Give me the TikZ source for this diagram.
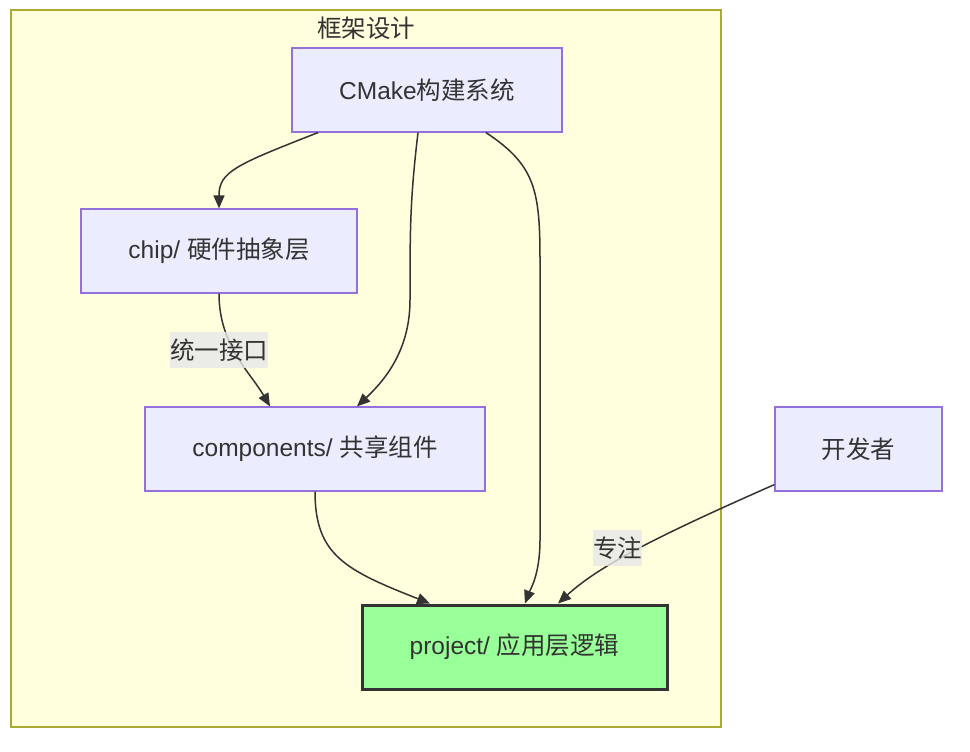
\documentclass[tikz,border=0pt]{standalone}
\usepackage{fontspec}
\setmainfont{Liberation Sans}
\newfontfamily\cjk{Noto Sans CJK SC}
\usetikzlibrary{arrows.meta,calc}
\definecolor{clusterfill}{HTML}{FFFFDE}
\definecolor{clusterline}{HTML}{AAAA33}
\definecolor{nodefill}{HTML}{ECECFF}
\definecolor{nodeline}{HTML}{9370DB}
\definecolor{projfill}{HTML}{99FF99}
\definecolor{ink}{HTML}{333333}
\definecolor{lblbg}{HTML}{E8E8E8}
\tikzset{
  txt/.style={font=\fontsize{24.5}{28}\selectfont},
  box/.style={txt, draw=nodeline, fill=nodefill, line width=1.2pt, minimum height=84pt, inner sep=0pt, text=ink},
  projbox/.style={txt, draw=ink, fill=projfill, line width=3pt, minimum height=84pt, inner sep=0pt, text=ink},
  conn/.style={draw=ink, line width=1.5pt, -{Triangle[length=13pt,width=11pt]}},
  lbl/.style={txt, fill=lblbg, fill opacity=0.8, text opacity=1, text=ink, inner sep=0pt, minimum height=36pt},
}
\begin{document}
\begin{tikzpicture}[x=1pt,y=-1pt]
\useasboundingbox (0,0) rectangle (970,752);
\fill[white] (0,0) rectangle (970,752);
% cluster
\draw[clusterline, fill=clusterfill, line width=1.5pt] (11,10) rectangle (721,727);
\node[txt, text=ink] (title) at (366,28) {\cjk 框架设计};
% nodes
\node[box, minimum width=270pt] (cm) at (427,90) {CMake{\cjk 构建系统}};
\node[box, minimum width=276pt] (chip) at (219,251) {chip/ {\cjk 硬件抽象层}};
\node[box, minimum width=340pt] (comp) at (315,449) {components/ {\cjk 共享组件}};
\node[projbox, minimum width=305pt] (proj) at (514.5,647) {project/ {\cjk 应用层逻辑}};
\node[box, minimum width=167pt] (dev) at (858.5,449) {\cjk 开发者};
% edges
\draw[conn] ([xshift=-109pt]cm.south) .. controls (235,165) and (219,172) .. (chip.north);
\draw[conn] ([xshift=-9pt]cm.south) .. controls (410,200) and (410,230) .. (410,300) .. controls (410,350) and (385,380) .. ([xshift=42pt]comp.north);
\draw[conn] ([xshift=59pt]cm.south) .. controls (535,165) and (540,190) .. (540,260) -- (540,540) .. controls (540,575) and (530,590) .. ([xshift=10.5pt]proj.north);
\draw[conn] (chip.south) .. controls (219,345) and (250,372) .. ([xshift=-45pt]comp.north);
\draw[conn] (comp.south) .. controls (315,555) and (345,570) .. ([xshift=-84.5pt]proj.north);
\draw[conn] ([yshift=7pt]dev.south west) .. controls (660,535) and (600,565) .. ([xshift=43.5pt]proj.north);
% labels
\node[lbl, minimum width=98pt] (l1) at (219,350) {\cjk 统一接口};
\node[lbl, minimum width=49pt] (l2) at (617.5,548) {\cjk 专注};
\end{tikzpicture}
\end{document}
